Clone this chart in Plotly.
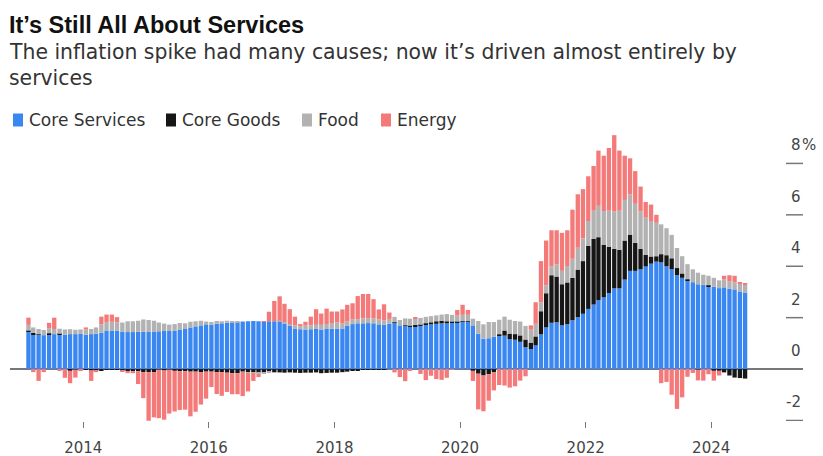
import pandas as pd
import plotly.graph_objects as go

# ---------------- data (contributions to US CPI YoY, percentage points) ----------------
# monthly, Feb 2013 .. Jul 2024
start_month = "2013-02-01"
end_month = "2024-07-01"

core_services = [
    1.45, 1.35, 1.33, 1.32, 1.35, 1.36, 1.35, 1.34, 1.36, 1.36, 1.38,
    1.34, 1.36, 1.38, 1.42, 1.48, 1.50, 1.50, 1.46, 1.44, 1.44, 1.45, 1.45,
    1.46, 1.46, 1.47, 1.48, 1.48, 1.50, 1.54, 1.56, 1.62, 1.66, 1.70, 1.74,
    1.72, 1.76, 1.78, 1.80, 1.82, 1.83, 1.85, 1.86, 1.87, 1.86, 1.85, 1.86,
    1.86, 1.86, 1.76, 1.68, 1.58, 1.55, 1.54, 1.55, 1.56, 1.54, 1.56, 1.57,
    1.58, 1.58, 1.68, 1.75, 1.78, 1.78, 1.79, 1.78, 1.74, 1.73, 1.76, 1.80,
    1.70, 1.68, 1.64, 1.66, 1.68, 1.72, 1.74, 1.76, 1.78, 1.78, 1.80, 1.82,
    1.84, 1.84, 1.70, 1.38, 1.18, 1.20, 1.26, 1.30, 1.30, 1.16, 1.14, 1.06,
    0.85, 0.78, 0.92, 1.35, 1.62, 1.80, 1.82, 1.70, 1.75, 1.90, 2.02, 2.15,
    2.34, 2.51, 2.68, 2.79, 2.96, 3.14, 3.14, 3.48, 3.82, 3.82, 3.88, 3.99,
    4.10, 4.18, 4.15, 4.00, 3.88, 3.65, 3.55, 3.45, 3.38, 3.30, 3.28, 3.22,
    3.20, 3.15, 3.18, 3.12, 3.10, 3.02, 2.98,
]
core_goods = [
    0.04, 0.06, 0.02, 0.00, 0.04, 0.00, 0.02, 0.00, -0.06, -0.02, 0.00,
    -0.02, -0.04, -0.06, -0.04, -0.02, -0.02, -0.02, -0.04, -0.08, -0.08, -0.08, -0.12,
    -0.12, -0.12, -0.02, -0.04, -0.02, -0.06, -0.08, -0.08, -0.10, -0.10, -0.12, -0.10,
    -0.10, -0.12, -0.12, -0.14, -0.16, -0.16, -0.10, -0.12, -0.12, -0.14, -0.12, -0.10,
    -0.12, -0.13, -0.14, -0.13, -0.14, -0.15, -0.14, -0.14, -0.13, -0.16, -0.15, -0.14,
    -0.14, -0.12, -0.10, -0.06, -0.04, -0.02, -0.02, -0.02, -0.02, -0.02, 0.00, 0.02,
    0.00, 0.02, 0.04, 0.06, 0.04, 0.06, 0.08, 0.10, 0.10, 0.08, 0.04, 0.02,
    0.02, 0.02, -0.06, -0.18, -0.25, -0.20, -0.12, 0.05, 0.20, 0.22, 0.22, 0.25,
    0.30, 0.25, 0.35, 0.90, 1.33, 1.85, 1.78, 1.60, 1.62, 1.65, 1.85, 2.05,
    2.45, 2.55, 2.45, 2.05, 1.80, 1.54, 1.50, 1.52, 1.41, 1.09, 0.79, 0.45,
    0.28, 0.21, 0.32, 0.43, 0.43, 0.28, 0.17, 0.04, 0.00, -0.02, 0.00, 0.04,
    -0.06, -0.06, -0.13, -0.25, -0.33, -0.35, -0.37,
]
food = [
    0.23, 0.21, 0.21, 0.20, 0.20, 0.20, 0.20, 0.20, 0.19, 0.17, 0.16,
    0.20, 0.20, 0.24, 0.32, 0.35, 0.34, 0.32, 0.35, 0.42, 0.42, 0.43, 0.48,
    0.45, 0.42, 0.34, 0.29, 0.25, 0.25, 0.25, 0.22, 0.22, 0.20, 0.18, 0.11,
    0.11, 0.11, 0.08, 0.08, 0.04, 0.04, 0.00, -0.03, -0.04, -0.05, -0.04, -0.03,
    -0.03, 0.03, 0.07, 0.07, 0.12, 0.12, 0.15, 0.15, 0.16, 0.18, 0.19, 0.22,
    0.23, 0.19, 0.17, 0.19, 0.16, 0.19, 0.19, 0.19, 0.19, 0.16, 0.19, 0.21,
    0.21, 0.27, 0.28, 0.24, 0.27, 0.25, 0.24, 0.23, 0.24, 0.28, 0.27, 0.24,
    0.25, 0.25, 0.26, 0.49, 0.56, 0.63, 0.57, 0.57, 0.54, 0.54, 0.51, 0.54,
    0.53, 0.50, 0.49, 0.34, 0.31, 0.34, 0.48, 0.52, 0.64, 0.74, 0.85, 0.88,
    0.97, 1.10, 1.22, 1.31, 1.40, 1.45, 1.52, 1.58, 1.56, 1.52, 1.47, 1.45,
    1.38, 1.30, 1.16, 1.05, 0.91, 0.78, 0.67, 0.59, 0.50, 0.45, 0.39, 0.37,
    0.35, 0.30, 0.30, 0.30, 0.28, 0.30, 0.30,
]
energy = [
    0.28, -0.12, -0.46, -0.12, 0.21, 0.44, -0.07, -0.34, -0.49, -0.31, -0.04,
    0.08, -0.42, -0.06, 0.30, 0.29, 0.28, 0.20, -0.07, -0.08, -0.08, -0.50, -1.01,
    -1.89, -1.76, -1.89, -1.93, -1.71, -1.59, -1.51, -1.50, -1.74, -1.56, -1.26, -1.05,
    -0.60, -0.85, -0.92, -0.75, -0.82, -0.82, -0.95, -0.72, -0.30, -0.12, 0.01, 0.37,
    0.79, 0.94, 0.71, 0.58, 0.34, 0.08, 0.15, 0.34, 0.61, 0.44, 0.60, 0.45,
    0.43, 0.55, 0.65, 0.62, 0.90, 0.95, 0.94, 0.75, 0.39, 0.63, 0.25, -0.13,
    -0.31, -0.47, -0.06, 0.04, -0.19, -0.43, -0.26, -0.39, -0.42, -0.34, -0.01, 0.22,
    0.39, 0.19, -0.40, -1.39, -1.39, -1.03, -0.71, -0.62, -0.64, -0.72, -0.67, -0.45,
    -0.28, 0.17, 0.84, 1.61, 1.74, 1.41, 1.32, 1.48, 1.39, 1.91, 2.08, 1.92,
    1.74, 1.74, 2.15, 2.15, 2.44, 2.97, 2.34, 1.72, 1.41, 1.27, 0.96, 0.61,
    0.64, 0.31, -0.55, -0.50, -1.00, -1.55, -1.10, -0.30, -0.15, -0.42, -0.45, -0.20,
    -0.39, -0.19, 0.15, 0.23, 0.25, 0.04, 0.06,
]

series_names = ["Core Services", "Core Goods", "Food", "Energy"]
y_tick_values = [-2, 0, 2, 4, 6, 8]
x_tick_years = [2014, 2016, 2018, 2020, 2022, 2024]

title_text = "It\u2019s Still All About Services"
subtitle_lines = [
    "The inflation spike had many causes; now it\u2019s driven almost entirely by",
    "services",
]

# ---------------- styling / layout ----------------
colors = ["#3b87f2", "#161616", "#b2b2b2", "#f47a7a"]
W, H = 823, 456
PL, PR, PT, PB = 10, 803, 130, 421        # plot area in pixels
Y_MIN, Y_MAX = -2.02, 9.30
TICK2014_PX, PX_PER_YEAR = 83.3, 62.8


def px_to_date(p):
    return pd.Timestamp("2014-01-01") + pd.Timedelta(days=(p - TICK2014_PX) / PX_PER_YEAR * 365.25)


def xp(p):
    return (p - PL) / (PR - PL)


def yp(p):
    return (PB - p) / (PB - PT)


months = pd.date_range(start_month, end_month, freq="MS")
x_mid = months + pd.Timedelta(days=15)

fig = go.Figure()
for name, vals, col in zip(series_names, [core_services, core_goods, food, energy], colors):
    fig.add_bar(x=x_mid, y=vals, name=name, marker_color=col, marker_line_width=0,
                showlegend=False)

fig.update_layout(
    barmode="relative",
    bargap=0.1,
    width=W, height=H,
    margin=dict(l=PL, r=W - PR, t=PT, b=H - PB, pad=0, autoexpand=False),
    plot_bgcolor="white", paper_bgcolor="white",
    showlegend=False,
    font=dict(family="DejaVu Sans", color="#444"),
)

fig.update_xaxes(
    type="date",
    range=[px_to_date(PL), px_to_date(PR)],
    tickvals=[pd.Timestamp(f"{y}-01-01") for y in x_tick_years],
    ticktext=[str(y) for y in x_tick_years],
    ticks="outside", ticklen=6, tickwidth=1.2, tickcolor="#777",
    showgrid=False, showline=False, zeroline=False,
    tickfont=dict(family="DejaVu Sans", size=15, color="#444"),
    ticklabelstandoff=7,
    automargin=False,
    fixedrange=True,
)
fig.update_yaxes(
    range=[Y_MIN, Y_MAX],
    showticklabels=False, showgrid=False, showline=False, ticks="",
    zeroline=True, zerolinecolor="#777", zerolinewidth=1.5,
    automargin=False,
    fixedrange=True,
)

annotations = []
shapes = []

# title / subtitle
annotations.append(dict(text="<b>" + title_text + "</b>", xref="paper", yref="paper",
                        x=xp(7), y=yp(25), xanchor="left", yanchor="middle", showarrow=False,
                        font=dict(family="Liberation Sans, Arial", size=23.5, color="#111")))
for i, line in enumerate(subtitle_lines):
    annotations.append(dict(text=line, xref="paper", yref="paper",
                            x=xp(7), y=yp(52 + 26.5 * i), xanchor="left", yanchor="middle",
                            showarrow=False,
                            font=dict(family="DejaVu Sans", size=20.4, color="#333")))

# legend (swatch + label)
legend_swatch_px = [13, 166, 302, 381]
for name, col, sx in zip(series_names, colors, legend_swatch_px):
    shapes.append(dict(type="rect", xref="paper", yref="paper",
                       x0=xp(sx), x1=xp(sx + 10), y0=yp(126.5), y1=yp(113.5),
                       fillcolor=col, line=dict(width=0)))
    annotations.append(dict(text=name, xref="paper", yref="paper",
                            x=xp(sx + 14), y=yp(120), xanchor="left", yanchor="middle",
                            showarrow=False,
                            font=dict(family="DejaVu Sans", size=17, color="#333")))

# right-hand y ticks: short stubs with labels above them
for v in y_tick_values:
    if v != 0:
        shapes.append(dict(type="line", xref="paper", yref="y", x0=xp(786), x1=xp(803),
                           y0=v, y1=v, line=dict(color="#777", width=1.5)))
    label = str(v) if v >= 0 else "-" + str(abs(v))
    annotations.append(dict(text=label, xref="paper", yref="y", x=xp(803), y=v,
                            yshift=18, xanchor="right", yanchor="middle", showarrow=False,
                            font=dict(family="DejaVu Sans", size=15, color="#444")))
    if v == max(y_tick_values):
        annotations.append(dict(text="%", xref="paper", yref="y", x=xp(800), y=v,
                                yshift=18, xanchor="left", yanchor="middle", showarrow=False,
                                font=dict(family="DejaVu Sans", size=15, color="#444")))

fig.update_layout(annotations=annotations, shapes=shapes)
fig.write_html("out.html")
